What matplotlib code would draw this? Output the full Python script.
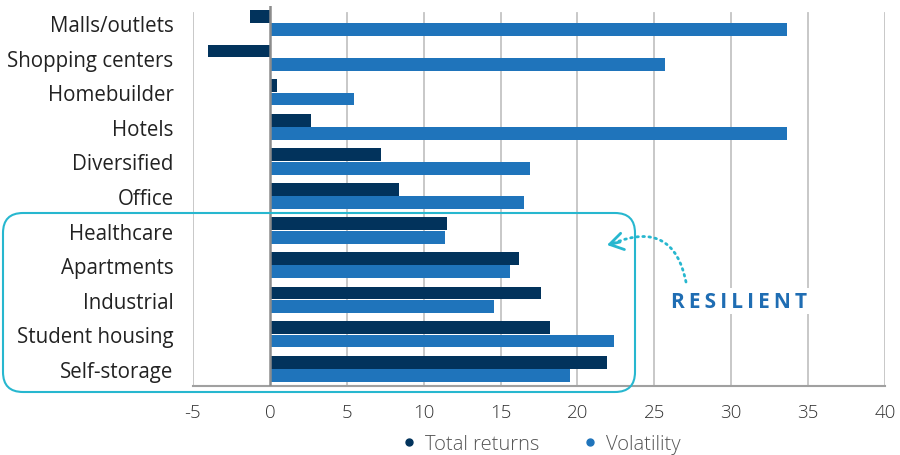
import numpy as np
import matplotlib.pyplot as plt
from matplotlib.patches import FancyBboxPatch, FancyArrowPatch
from matplotlib.lines import Line2D

categories = ['Malls/outlets', 'Shopping centers', 'Homebuilder', 'Hotels', 'Diversified',
              'Office', 'Healthcare', 'Apartments', 'Industrial', 'Student housing', 'Self-storage']
total_returns = [-1.3, -4.0, 0.45, 2.7, 7.25, 8.4, 11.5, 16.2, 17.6, 18.2, 21.9]
volatility = [33.6, 25.7, 5.5, 33.6, 16.9, 16.5, 11.4, 15.6, 14.6, 22.4, 19.5]
xticks = [-5, 0, 5, 10, 15, 20, 25, 30, 35, 40]

navy = '#02335c'
blue = '#1f74bb'
cyan = '#27b7cf'

plt.rcParams['font.family'] = ['Open Sans', 'DejaVu Sans']

fig = plt.figure(figsize=(9, 4.56), dpi=100)
ax = fig.add_axes([0.2144, 0.151, 0.769, 0.834])

y = np.arange(len(categories))
h = 0.37
ax.barh(y - 0.195, total_returns, height=h, color=navy, zorder=3)
ax.barh(y + 0.195, volatility, height=h, color=blue, zorder=3)

ax.set_xlim(-5, 40)
ax.set_ylim(len(categories) - 0.5, -0.5)
ax.set_yticks(y)
ax.set_yticklabels(categories, fontsize=14.8, color='#222222')
ax.set_xticks(xticks)
ax.set_xticklabels([str(t) for t in xticks], fontsize=13.5, color='#333333', fontweight='light')
ax.tick_params(axis='both', length=0)
ax.tick_params(axis='x', pad=12)
ax.tick_params(axis='y', pad=14)

for t in xticks:
    if t == 0:
        ax.axvline(t, color='#8c8c8c', lw=1.8, zorder=4)
    else:
        ax.axvline(t, ymax=0.98, color='#c4c4c4', lw=1.3, zorder=1)

for s in ['top', 'right', 'left']:
    ax.spines[s].set_visible(False)
ax.spines['bottom'].set_color('#a0a0a0')
ax.spines['bottom'].set_linewidth(1.5)

# annotation box and arrow (in inches, figure frame)
tr = fig.dpi_scale_trans
box = FancyBboxPatch((0.03, 0.63), 6.32, 1.79,
                     boxstyle='round,pad=0,rounding_size=0.2',
                     transform=tr, fill=False, edgecolor=cyan, lw=1.5, clip_on=False, zorder=6)
fig.patches.append(box)

curve = FancyArrowPatch((6.86, 1.73), (6.14, 2.12), transform=tr,
                        connectionstyle='arc3,rad=0.6', arrowstyle='-',
                        color=cyan, lw=2, linestyle=(0, (0.6, 1.6)),
                        shrinkA=0, shrinkB=0, zorder=6)
fig.patches.append(curve)
head = FancyArrowPatch((6.20, 2.13), (6.07, 2.10), transform=tr,
                       arrowstyle='->,head_length=0.8,head_width=0.5', mutation_scale=12,
                       color=cyan, lw=2, shrinkA=0, shrinkB=0, zorder=6)
fig.patches.append(head)

fig.text(7.39, 4.56 - 3.02, '\u2009'.join('RESILIENT'), transform=tr, ha='center', va='center',
         fontsize=15, fontweight='bold', color='#1f6db3',
         bbox=dict(facecolor='white', edgecolor='none', pad=2), zorder=7)

handles = [Line2D([], [], marker='o', ls='', color=navy, markersize=5),
           Line2D([], [], marker='o', ls='', color=blue, markersize=5)]
leg = fig.legend(handles, ['Total returns', 'Volatility'], loc='center',
                 bbox_to_anchor=(0.6, 0.024), ncol=2, frameon=False, fontsize=14.5,
                 handletextpad=0.3, columnspacing=2.0, handlelength=1)
for t in leg.get_texts():
    t.set_color('#555555')
    t.set_fontweight('light')

fig.savefig('out.png', dpi=100)
